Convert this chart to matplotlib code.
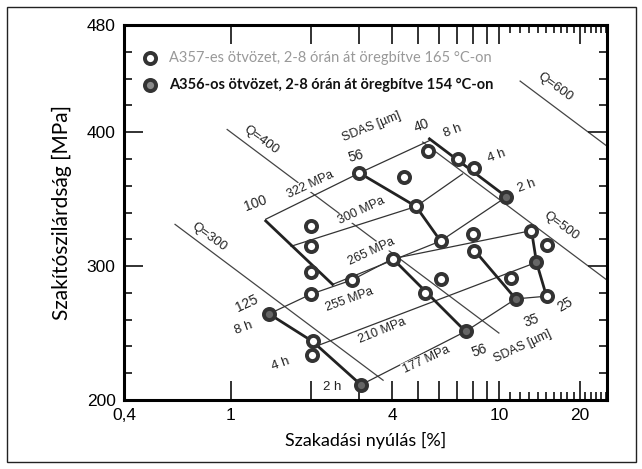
import numpy as np
import matplotlib.pyplot as plt
from matplotlib.patches import Rectangle
from matplotlib.ticker import FixedLocator, NullFormatter

# --- data -------------------------------------------------------------
# quality index lines  Q = UTS + 150*log10(E)
q_values = [300, 400, 500, 600]
q_e_from = [0.62, 0.97, 5.2, 12.0]
q_e_to = [3.7, 10.0, 25.5, 25.5]

# measured points (elongation %, UTS MPa)
open_e = [4.44, 5.43, 2.00, 2.00, 4.91, 1.99, 2.83, 4.02, 1.99, 5.28, 7.03,
          8.07, 6.06, 7.98, 13.23, 15.05, 8.05, 6.10, 11.13, 15.05, 2.02,
          2.01, 3.02]
open_uts = [366.3, 386.2, 329.8, 315.0, 344.5, 295.3, 289.6, 305.5, 279.0,
            279.7, 380.0, 373.0, 318.7, 324.3, 326.5, 315.9, 311.0, 290.5,
            290.9, 277.5, 243.7, 233.8, 369.5]
dark_e = [1.39, 3.06, 10.67, 7.51, 13.81, 11.56]
dark_uts = [264.3, 211.3, 351.7, 251.2, 302.8, 275.5]

# SDAS lines (thick)
sdas_lines = [
    ([1.351, 2.398], [333.7, 286.3]),               # 100
    ([3.02, 4.91, 6.06], [369.5, 344.5, 318.7]),    # 56 (upper)
    ([5.51, 10.67], [395.0, 351.7]),                # 40
    ([1.39, 2.02, 3.06], [264.3, 243.7, 211.3]),    # 125
    ([4.02, 7.51], [305.5, 251.2]),                 # 56 (lower)
    ([8.05, 11.56], [312.5, 275.5]),                # 35
    ([13.23, 13.81, 15.05], [326.5, 302.8, 277.5]), # 25
]
# ageing time lines (thin)
time_lines = [
    ([1.351, 3.02, 5.51], [335.0, 369.5, 393.7]),              # 8 h upper
    ([1.68, 4.91, 7.32], [314.8, 344.5, 368.8]),               # 4 h upper
    ([2.398, 6.06, 10.67], [286.3, 318.7, 351.7]),             # 2 h upper
    ([1.39, 1.99, 2.83, 4.02, 13.23], [264.3, 279.0, 289.6, 305.5, 326.5]),
    ([2.01, 13.81], [239.0, 302.8]),
    ([3.06, 7.51, 11.56, 15.05], [211.3, 251.2, 275.5, 277.5]),
]

# labels: text, E, UTS, rotation, size
labels = [
    ("Q=300", 0.83, 322, -36, 9.5), ("Q=400", 1.295, 394, -36, 9.5),
    ("Q=500", 17.1, 330, -36, 9.5), ("Q=600", 16.2, 434, -36, 9.5),
    ("SDAS [µm]", 3.35, 404, 22, 9), ("56", 2.93, 382, 15, 10),
    ("40", 5.13, 405, 20, 10), ("100", 1.24, 347, 20, 10),
    ("8 h", 6.74, 401, 20, 9.5), ("4 h", 9.79, 382, 20, 9.5),
    ("2 h", 12.67, 360, 20, 9.5), ("322 MPa", 1.99, 361, 25, 9),
    ("300 MPa", 3.06, 341, 25, 9), ("265 MPa", 3.34, 311, 25, 9),
    ("125", 1.15, 272, 25, 10), ("8 h", 1.12, 254, 20, 9.5),
    ("4 h", 1.54, 227, 20, 9.5), ("2 h", 2.40, 210, 0, 9.5),
    ("255 MPa", 2.77, 275, 20, 9), ("210 MPa", 3.68, 252, 22, 9),
    ("177 MPa", 5.36, 230, 25, 9), ("56", 8.47, 237, 20, 10),
    ("35", 13.2, 259, 20, 10), ("25", 17.6, 271, 30, 10),
    ("SDAS [µm]", 12.3, 240, 25, 9),
]

legend_labels = ["A357-es ötvözet, 2-8 órán át öregbítve 165 °C-on",
                 "A356-os ötvözet, 2-8 órán át öregbítve 154 °C-on"]

# --- figure -----------------------------------------------------------
fig = plt.figure(figsize=(6.42, 4.69), dpi=100)
fig.patches.append(Rectangle((7 / 642, 7 / 469), 629 / 642, 455 / 469,
                             transform=fig.transFigure, fill=False,
                             edgecolor='#222222', linewidth=1.0))
ax = fig.add_axes([124 / 642, 69 / 469, 483 / 642, 375 / 469])
ax.set_xscale('log')
ax.set_xlim(0.4, 25.3)
ax.set_ylim(200, 480)

for q, e0, e1 in zip(q_values, q_e_from, q_e_to):
    e = np.array([e0, e1])
    ax.plot(e, q - 150 * np.log10(e), color='#444444', lw=0.9, zorder=1)

for xs, ys in time_lines:
    ax.plot(xs, ys, color='#333333', lw=0.9, zorder=2)
for xs, ys in sdas_lines:
    ax.plot(xs, ys, color='#222222', lw=2.0, zorder=3)

ax.plot(open_e, open_uts, 'o', ms=8, mfc='white', mec='#333333', mew=2.8,
        zorder=5)
ax.plot(dark_e, dark_uts, 'o', ms=8, mfc='#666666', mec='#333333', mew=2.8,
        zorder=5)

for txt, e, s, rot, size in labels:
    ax.text(e, s, txt, rotation=rot, ha='center', va='center', fontsize=size,
            family='Liberation Sans', color='#222222', zorder=4,
            bbox=dict(fc='white', ec='none', pad=0.5) if 'MPa' in txt else None)

# legend
ax.plot([0.5], [455], 'o', ms=8, mfc='white', mec='#333333', mew=2.8,
        clip_on=False)
ax.plot([0.5], [435], 'o', ms=8, mfc='#888888', mec='#333333', mew=2.8,
        clip_on=False)
ax.text(0.59, 455, legend_labels[0], color='#999999', fontsize=10.5,
        family='Lato', va='center')
ax.text(0.59, 435, legend_labels[1], color='#111111', fontsize=10.5,
        family='Lato', va='center', fontweight='bold')

# ticks
major_x = [0.4, 1, 2, 3, 4, 5, 6, 7, 8, 9, 10, 20]
major_lbl = ["0,4", "1", "", "", "4", "", "", "", "", "", "10", "20"]
ax.xaxis.set_major_locator(FixedLocator(major_x))
ax.set_xticklabels(major_lbl)
ax.xaxis.set_minor_locator(FixedLocator([11, 12, 13, 14, 15, 16, 17, 18, 19,
                                         21, 22, 23, 24, 25]))
ax.xaxis.set_minor_formatter(NullFormatter())
ax.set_yticks([200, 300, 400, 480])
ax.set_yticks(np.arange(200, 481, 20), minor=True)
ax.tick_params(which='both', direction='in', top=True, right=True,
               width=1.3, color='#222222')
ax.tick_params(which='major', length=14, labelsize=12.5, pad=6)
ax.tick_params(which='minor', length=6)
for lab in ax.get_xticklabels() + ax.get_yticklabels():
    lab.set_family('Liberation Sans')
for sp in ax.spines.values():
    sp.set_linewidth(2.2)

ax.set_xlabel('Szakadási nyúlás [%]', fontsize=13, family='Lato', labelpad=6)
ax.set_ylabel('Szakítószilárdság [MPa]', fontsize=15, family='Lato',
              labelpad=11)

fig.savefig('out.png', dpi=100)
